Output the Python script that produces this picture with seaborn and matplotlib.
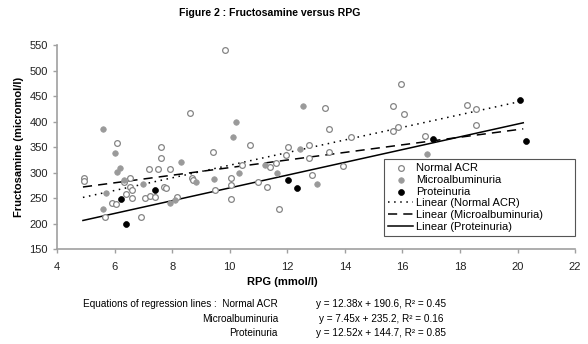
import matplotlib
matplotlib.use("Agg")
from matplotlib import pyplot as plt
import seaborn as sns
import pandas as pd
import numpy as np

# Data
normal_x = [4.92, 4.92, 5.65, 6.08, 5.9, 6.04, 6.33, 6.52, 6.52, 6.62, 6.4, 6.62, 6.92,
            7.06, 7.23, 7.41, 7.21, 7.52, 7.91, 7.6, 7.6, 7.72, 7.79, 8.18, 8.68, 8.74,
            8.63, 9.42, 9.5, 9.82, 10.05, 10.05, 10.05, 10.42, 10.71, 11.0, 11.31, 11.41,
            11.62, 11.72, 11.95, 12.01, 12.74, 12.74, 12.86, 13.32, 13.44, 13.44, 13.92,
            14.23, 15.66, 15.95, 16.05, 15.84, 15.66, 16.77, 18.25, 18.55, 18.55]
normal_y = [290, 283, 212, 357, 241, 239, 282, 290, 272, 265, 257, 250, 212,
            251, 254, 252, 306, 306, 306, 350, 329, 272, 270, 252, 290, 285,
            416, 340, 266, 540, 289, 276, 248, 315, 355, 281, 272, 310,
            318, 228, 334, 350, 354, 328, 295, 427, 385, 340, 313,
            370, 430, 474, 415, 390, 381, 372, 432, 424, 393]

micro_x = [5.61, 6.02, 6.1, 6.19, 5.69, 5.61, 6.34, 6.97, 7.93, 8.1, 8.31, 8.83,
           9.44, 10.11, 10.23, 10.34, 11.23, 11.66, 12.43, 12.54, 13.03, 16.86]
micro_y = [385, 338, 302, 309, 260, 228, 285, 277, 240, 246, 320, 282,
           287, 370, 400, 300, 315, 300, 346, 431, 277, 336]

prot_x = [6.23, 6.39, 7.41, 12.02, 12.34, 17.06, 20.07, 20.28]
prot_y = [249, 200, 266, 285, 269, 366, 443, 362]

# regression lines (slope, intercept) as printed under the chart
groups = ["Normal ACR", "Microalbuminuria", "Proteinuria"]
slopes = [12.38, 7.45, 12.52]
intercepts = [190.6, 235.2, 144.7]
r2 = [0.45, 0.16, 0.85]
fit_range = [4.9, 20.2]

plt.rcParams["font.family"] = ["Liberation Sans", "DejaVu Sans"]

fig, ax = plt.subplots(figsize=(5.88, 3.44), dpi=100)
fig.subplots_adjust(left=0.097, right=0.978, bottom=0.276, top=0.869)

sns.scatterplot(x=normal_x, y=normal_y, ax=ax, marker="o", color="white",
                edgecolor="#858585", linewidth=0.9, s=17, label="Normal ACR", zorder=3)
sns.scatterplot(x=micro_x, y=micro_y, ax=ax, marker="o", color="#9a9a9a",
                edgecolor="#9a9a9a", linewidth=0.5, s=16, label="Microalbuminuria", zorder=3)
sns.scatterplot(x=prot_x, y=prot_y, ax=ax, marker="o", color="black",
                edgecolor="black", linewidth=0.5, s=18, label="Proteinuria", zorder=4)

styles = [(0, (1, 3)), (0, (6, 4)), "-"]
lines = []
for g, m, b in zip(groups, slopes, intercepts):
    for xv in fit_range:
        lines.append({"group": g, "x": xv, "y": m * xv + b})
df_lines = pd.DataFrame(lines)
for g, ls in zip(groups, styles):
    d = df_lines[df_lines.group == g]
    sns.lineplot(data=d, x="x", y="y", ax=ax, color="black", linewidth=1.1,
                 linestyle=ls, label="Linear (" + g + ")", zorder=2)

ax.set_xlim(4, 22)
ax.set_ylim(150, 550)
ax.set_xticks(np.arange(4, 23, 2))
ax.set_yticks(np.arange(150, 551, 50))
for side in ["top", "right"]:
    ax.spines[side].set_visible(False)
for side in ["left", "bottom"]:
    ax.spines[side].set_color("#a0a0a0")
    ax.spines[side].set_linewidth(1.2)
ax.tick_params(axis="both", colors="#a0a0a0", labelcolor="#222222", labelsize=8,
               length=3, width=1)
ax.tick_params(axis="x", pad=6)

ax.set_xlabel("RPG (mmol/l)", fontsize=8, fontweight="bold")
ax.xaxis.set_label_coords(0.434, -0.135)
ax.set_ylabel("Fructosamine (micromol/l)", fontsize=8, fontweight="bold", labelpad=4)
fig.text(270 / 588, 0.962, "Figure 2 : Fructosamine versus RPG", ha="center", va="center",
         fontsize=7.6, fontweight="bold")

leg = ax.legend(loc="lower left", bbox_to_anchor=(0.631, 0.064, 0.369, 0.38),
                mode="expand", fontsize=8,
                frameon=True, fancybox=False, edgecolor="#555555", framealpha=1,
                handlelength=2.2, handletextpad=0.3, labelspacing=0.15,
                borderpad=0.4, borderaxespad=0)
leg.get_frame().set_linewidth(0.8)

# equations below the chart
fig.text(278 / 588, 1 - 304 / 344, "Equations of regression lines :  " + groups[0],
         ha="right", va="center", fontsize=7.2)
for i, yy in zip([1, 2], [319, 333]):
    fig.text(278 / 588, 1 - yy / 344, groups[i], ha="right", va="center", fontsize=7.2)
for i, yy in zip(range(3), [304, 319, 333]):
    fig.text(381 / 588, 1 - yy / 344,
             "y = %.2fx + %.1f, R\u00b2 = %.2f" % (slopes[i], intercepts[i], r2[i]),
             ha="center", va="center", fontsize=7.2)

plt.savefig("out.png", dpi=100)
